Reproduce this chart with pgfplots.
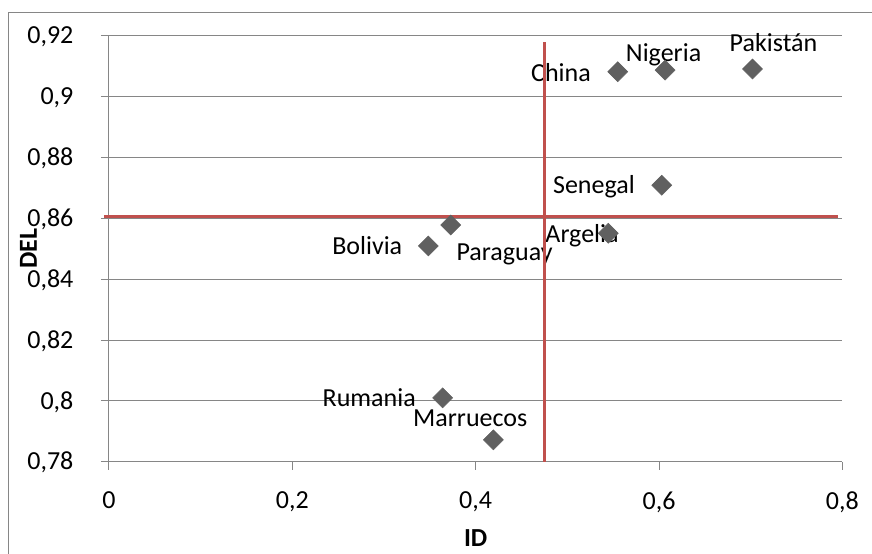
\documentclass[border=0pt]{standalone}
\usepackage{pgfplots}
\pgfplotsset{compat=1.18}
\usepackage{fontspec}
\setmainfont{Carlito}
\definecolor{gridgray}{RGB}{134,134,134}
\definecolor{redline}{RGB}{192,80,77}
\definecolor{mk}{RGB}{96,96,96}
\newcommand{\cf}{\fontsize{19.5}{23.4}\selectfont}
\begin{document}
\begin{tikzpicture}
\useasboundingbox (-81.75pt,-68.5pt) rectangle (572.25pt,346.3pt);
\draw[gridgray, line width=0.75pt] (-75.5pt,-100pt) -- (-75.5pt,336.75pt) -- (700pt,336.75pt);
\begin{axis}[
  scale only axis, width=550pt, height=319.5pt,
  xmin=0, xmax=0.8, ymin=0.78, ymax=0.92,
  clip=false,
  axis x line*=bottom, axis y line*=left,
  axis line style={gridgray, line width=0.75pt},
  xtick={0,0.2,0.4,0.6,0.8},
  xticklabels={0,{0,2},{0,4},{0,6},{0,8}},
  ytick={0.78,0.8,0.82,0.84,0.86,0.88,0.9,0.92},
  yticklabels={{0,78},{0,8},{0,82},{0,84},{0,86},{0,88},{0,9},{0,92}},
  ymajorgrids,
  grid style={gridgray, line width=0.75pt},
  tick align=outside, major tick length=6pt,
  tick style={gridgray, line width=0.75pt},
  xticklabel style={font=\cf, anchor=north, inner sep=0pt, yshift=-16.5pt},
  yticklabel style={font=\cf, anchor=base east, inner sep=0pt, xshift=-20.5pt, yshift=-6.1pt},
  xlabel={\textbf{ID}}, ylabel={\textbf{DEL}},
  every axis x label/.style={at={(axis description cs:0.5,0)}, anchor=base, yshift=-63.5pt, font=\cf},
  every axis y label/.style={at={(axis description cs:0,0.5)}, xshift=-60.5pt, rotate=90, anchor=center, font=\cf},
]
\addplot[only marks, mk, mark=square*, mark size=5.3pt, mark options={mk, fill=mk, rotate=45}] coordinates {
  (0.555,0.9082) (0.6066,0.9087) (0.702,0.9091) (0.603,0.8709)
  (0.3484,0.8509) (0.3728,0.8578) (0.5447,0.8551) (0.364,0.8010) (0.4193,0.7872)
};
\node[font=\cf, anchor=base] at (axis cs:0.4931,0.9049) {China};
\node[font=\cf, anchor=base] at (axis cs:0.6050,0.9114) {Nigeria};
\node[font=\cf, anchor=base] at (axis cs:0.7249,0.9147) {Pakistán};
\node[font=\cf, anchor=base] at (axis cs:0.5290,0.8682) {Senegal};
\node[font=\cf, anchor=base] at (axis cs:0.2817,0.8482) {Bolivia};
\node[font=\cf, anchor=base] at (axis cs:0.4315,0.8461) {Paraguay};
\node[font=\cf, anchor=base] at (axis cs:0.5160,0.8520) {Argelia};
\node[font=\cf, anchor=base] at (axis cs:0.2839,0.7981) {Rumania};
\node[font=\cf, anchor=base] at (axis cs:0.3941,0.7915) {Marruecos};
\addplot[redline, line width=2.25pt] coordinates {(-0.0055,0.8607) (0.795,0.8607)};
\addplot[redline, line width=2.25pt] coordinates {(0.4746,0.78) (0.4746,0.918)};
\end{axis}
\end{tikzpicture}
\end{document}
